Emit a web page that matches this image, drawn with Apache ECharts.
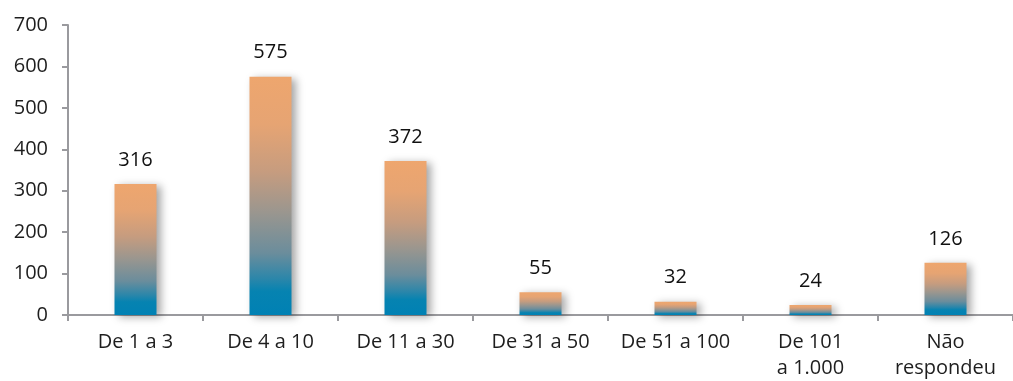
<!DOCTYPE html>
<html>
<head>
<meta charset="utf-8">
<script src="https://cdn.jsdelivr.net/npm/echarts@6/dist/echarts.min.js"></script>
<style>
  html, body { margin: 0; padding: 0; background: #fff; overflow: hidden; }
  #chart { width: 1013px; height: 381px; }
</style>
</head>
<body>
<div id="chart"></div>
<script>
// Number of companies by size band
const categories = ['De 1 a 3', 'De 4 a 10', 'De 11 a 30', 'De 31 a 50', 'De 51 a 100', 'De 101\na 1.000', 'Não\nrespondeu'];
const values = [316, 575, 372, 55, 32, 24, 126];
const yTicks = { min: 0, max: 700, interval: 100 };

const FONT = 'Open Sans';
const axisGrey = '#9a9a9e';

// orange at the top fading through grey to blue at the base
const barGradient = new echarts.graphic.LinearGradient(0, 0, 0, 1, [
  { offset: 0, color: '#eea66e' },
  { offset: 0.2, color: '#e6a473' },
  { offset: 0.4, color: '#c69c7f' },
  { offset: 0.57, color: '#9a968f' },
  { offset: 0.74, color: '#6b8d9c' },
  { offset: 0.85, color: '#2a86aa' },
  { offset: 0.9, color: '#0683b1' },
  { offset: 1, color: '#0081b4' }
]);

const chart = echarts.init(document.getElementById('chart'), null, { renderer: 'canvas' });
chart.setOption({
  animation: false,
  backgroundColor: '#fff',
  grid: { left: 68, right: -7, top: 25, bottom: 63, containLabel: false },
  xAxis: {
    type: 'category',
    data: categories,
    axisLine: { lineStyle: { color: axisGrey, width: 2 } },
    axisTick: { show: true, length: 6, lineStyle: { color: axisGrey, width: 2 } },
    axisLabel: {
      color: '#1e1e1e', fontFamily: FONT, fontSize: 20, margin: 14, lineHeight: 26, interval: 0
    }
  },
  yAxis: {
    type: 'value',
    min: yTicks.min, max: yTicks.max, interval: yTicks.interval,
    splitLine: { show: false },
    axisLine: { show: true, lineStyle: { color: axisGrey, width: 2 } },
    axisTick: { show: true, length: 6, lineStyle: { color: axisGrey, width: 2 } },
    axisLabel: { color: '#1e1e1e', fontFamily: FONT, fontSize: 20, margin: 20 }
  },
  series: [{
    type: 'bar',
    data: values,
    barWidth: 42,
    itemStyle: {
      color: barGradient,
      shadowColor: 'rgba(0,0,0,0.35)',
      shadowBlur: 8,
      shadowOffsetX: 4,
      shadowOffsetY: 2
    },
    label: {
      show: true, position: 'top', distance: 14,
      color: '#111', fontFamily: FONT, fontSize: 20
    }
  }]
});
</script>
</body>
</html>
